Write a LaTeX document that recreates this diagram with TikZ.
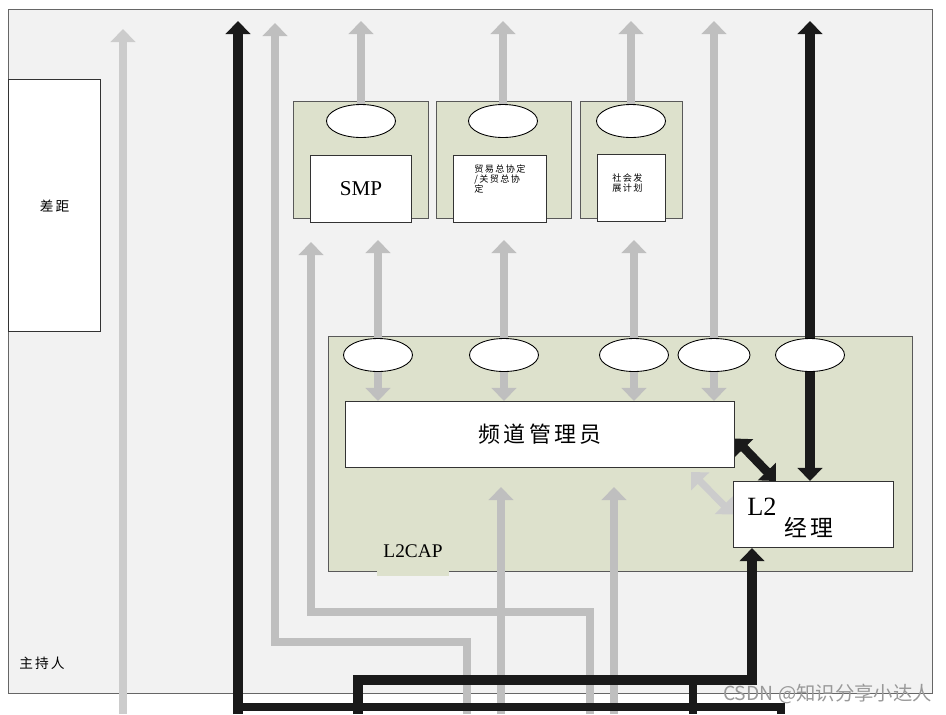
\documentclass[tikz,border=0pt]{standalone}
\usepackage{fontspec}
\setmainfont{Liberation Serif}
\newfontfamily\cjk[LetterSpace=15]{Noto Sans CJK SC}
\newfontfamily\wmfont{Noto Sans CJK SC}
\usetikzlibrary{arrows.meta,shapes.geometric}
\definecolor{hostgray}{HTML}{F2F2F2}
\definecolor{l2green}{HTML}{DDE1CC}
\definecolor{pipe}{HTML}{BFBFBF}
\definecolor{pipelight}{HTML}{CCCCCC}
\definecolor{ink}{HTML}{1A1A1A}

\begin{document}
\begin{tikzpicture}[x=0.02cm,y=-0.02cm,>={Triangle[width=14pt,length=7.5pt]},
  layerbox/.style={draw=black!65,fill=l2green,line width=0.7pt,inner sep=0pt,anchor=north west},
  blk/.style={draw=black!80,fill=white,line width=0.6pt,inner sep=0pt,anchor=north west},
  port/.style={ellipse,draw=black,fill=white,line width=0.5pt,minimum width=1.38cm,minimum height=0.66cm,inner sep=0pt},
  gpipe/.style={pipe,line width=5pt,->},
  bpipe/.style={ink,line width=5.5pt,->},
  gline/.style={pipe,line width=5pt},
  bline/.style={ink,line width=5pt}]
    \fill[white] (0,0) rectangle (946,714);
    \useasboundingbox (0,0) rectangle (946,714);
    \node[draw=black!60,fill=hostgray,line width=0.8pt,inner sep=0pt,anchor=north west,minimum width=18.48cm,minimum height=13.68cm] (host) at (8,9) {};
    \node[font=\cjk\fontsize{7.8}{9}\selectfont] (hostlbl) at (42,663) {主持人};
    \node[blk,minimum width=1.84cm,minimum height=5.04cm,font=\cjk\fontsize{7.8}{9}\selectfont] (gap) at (8,79) {差距};
    \node[layerbox,minimum width=2.7cm,minimum height=2.34cm] (smp) at (293,101) {};
    \node[layerbox,minimum width=2.7cm,minimum height=2.34cm] (gatt) at (436,101) {};
    \node[layerbox,minimum width=2.04cm,minimum height=2.34cm] (sdp) at (580,101) {};
    \node[port] (smpport) at (361,121) {};
    \node[port] (gattport) at (503,121) {};
    \node[port] (sdpport) at (631,121) {};
    \node[blk,minimum width=2.02cm,minimum height=1.34cm,font=\fontsize{12}{14}\selectfont] (smpblk) at (310,155) {SMP};
    \node[blk,minimum width=1.86cm,minimum height=1.34cm] (gattblk) at (453,155) {};
    \node[anchor=north west,inner sep=0pt,align=left,font=\cjk\fontsize{5.2}{5.8}\selectfont] (gatttxt) at (474,164) {贸易总协定\\/关贸总协\\定};
    \node[blk,minimum width=1.36cm,minimum height=1.34cm] (sdpblk) at (597,154) {};
    \node[anchor=north west,inner sep=0pt,align=left,font=\cjk\fontsize{5.2}{5.8}\selectfont] (sdptxt) at (612,173) {社会发\\展计划};
    \node[layerbox,minimum width=11.68cm,minimum height=4.7cm] (l2cap) at (328,336) {};
    \node[fill=l2green,inner sep=0pt,minimum width=1.46cm,text height=8pt,text depth=11pt,anchor=base,font=\fontsize{11}{13}\selectfont] (l2lbl) at (413,557) {L2CAP};
    \node[port] (pa) at (378,355) {};
    \node[port] (pb) at (504,355) {};
    \node[port] (pc) at (634,355) {};
    \node[port,minimum width=1.44cm] (pd) at (714,355) {};
    \node[port] (pe) at (810,355) {};
    \node[blk,minimum width=7.78cm,minimum height=1.32cm,font=\cjk\fontsize{12.5}{14}\selectfont] (chan) at (345,401) {频道管理员};
    \node[blk,minimum width=3.2cm,minimum height=1.32cm] (lmgr) at (733,481) {};
    \node[font=\fontsize{15}{17}\selectfont] (lmgrtop) at (762,507) {L2};
    \node[font=\cjk\fontsize{13}{15}\selectfont] (lmgrbot) at (809,527) {经理};
    \node[font=\wmfont\fontsize{11}{13}\selectfont,text=black!40,anchor=east,inner sep=0pt] (wm) at (932,694) {CSDN @知识分享小达人};
    \coordinate (top) at (0,21);
    \coordinate (mid) at (0,240);
    \coordinate (bot) at (0,714);
    \coordinate (tA) at (123,29);
    \coordinate (tB) at (238,21);
    \coordinate (tC) at (275,23);
    \coordinate (tD) at (311,242);
    \coordinate (ga) at (467,642);
    \coordinate (gb) at (590,612);
    \coordinate (cA) at (501,487);
    \coordinate (cB) at (614,487);
    \coordinate (ba) at (358,680);
    \coordinate (bb) at (752,680);
    \coordinate (bc) at (693,714);
    \coordinate (bd) at (781,707);
    \coordinate (lg) at (691,472);
    \draw[gpipe,pipelight] (tA |- bot) -- (tA);
    \draw[gpipe] (ga |- bot) -- (ga) -- (ga -| tC) -- (tC);
    \draw[gpipe] (gb |- bot) -- (gb) -- (gb -| tD) -- (tD);
    \draw[gpipe] (cA |- bot) -- (cA);
    \draw[gpipe] (cB |- bot) -- (cB);
    \draw[gpipe] (smpport.north) -- (smpport.north |- top);
    \draw[gpipe] (gattport.north) -- (gattport.north |- top);
    \draw[gpipe] (sdpport.north) -- (sdpport.north |- top);
    \draw[gpipe] (pa.north) -- (pa.north |- mid);
    \draw[gpipe] (pb.north) -- (pb.north |- mid);
    \draw[gpipe] (pc.north) -- (pc.north |- mid);
    \draw[gpipe] (pd.north) -- (pd.north |- top);
    \draw[gpipe] (pa.south) -- (pa.south |- chan.north);
    \draw[gpipe] (pb.south) -- (pb.south |- chan.north);
    \draw[gpipe] (pc.south) -- (pc.south |- chan.north);
    \draw[gpipe] (pd.south) -- (pd.south |- chan.north);
    \draw[pipelight,line width=4pt,<->] (lg) -- (lmgr.west);
    \draw[bpipe] (pe.north) -- (pe.north |- top);
    \draw[bpipe] (pe.south) -- (pe.south |- lmgr.north);
    \draw[ink,line width=5pt,<->] ([yshift=-0.08cm]chan.east) -- ([xshift=0.86cm]lmgr.north west);
    \draw[bpipe] (tB |- bot) -- (tB);
    \draw[bline] (tB |- bd) -- (bd) -- (bd |- bot);
    \draw[bpipe] (ba |- bot) -- (ba) -- (bb) -- (bb |- lmgr.south);
    \draw[bline] (bc |- ba) -- (bc);
\end{tikzpicture}
\end{document}
